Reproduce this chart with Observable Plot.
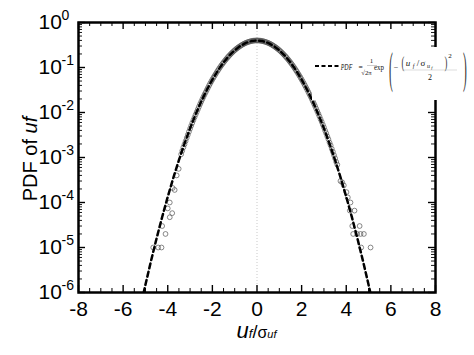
<!DOCTYPE html>
<html>
<head>
<meta charset="utf-8">
<script src="https://cdn.jsdelivr.net/npm/d3@7"></script>
<script src="https://cdn.jsdelivr.net/npm/@observablehq/plot@0.6"></script>
<style>
  html, body { margin: 0; padding: 0; background: #fff; }
  #chart svg { display: block; }
</style>
</head>
<body>
<div id="chart"></div>
<script>
// ---- data ----
const xTicks = [-8, -6, -4, -2, 0, 2, 4, 6, 8];
const xTickLabels = ["-8", "-6", "-4", "-2", "0", "2", "4", "6", "8"];
const yTicks = [1e-6, 1e-5, 1e-4, 1e-3, 1e-2, 1e-1, 1];
const yTickExps = ["-6", "-5", "-4", "-3", "-2", "-1", "0"];

// Gaussian reference curve PDF = exp(-x^2/2)/sqrt(2pi), tabulated
const gaussX = [-5.25, -5, -4.75, -4.5, -4.25, -4, -3.75, -3.5, -3.25, -3, -2.75, -2.5, -2.25, -2, -1.75, -1.5, -1.25, -1, -0.75, -0.5, -0.25,
  0, 0.25, 0.5, 0.75, 1, 1.25, 1.5, 1.75, 2, 2.25, 2.5, 2.75, 3, 3.25, 3.5, 3.75, 4, 4.25, 4.5, 4.75, 5, 5.25];
const gaussY = [4.13e-7, 1.487e-6, 5.03e-6, 1.598e-5, 4.772e-5, 1.3383e-4, 3.526e-4, 8.727e-4, 2.029e-3, 4.432e-3, 9.094e-3, 1.753e-2, 3.174e-2, 5.399e-2, 8.628e-2, 0.12952, 0.18265, 0.24197, 0.30114, 0.35207, 0.38667,
  0.39894, 0.38667, 0.35207, 0.30114, 0.24197, 0.18265, 0.12952, 0.08628, 5.399e-2, 3.174e-2, 1.753e-2, 9.094e-3, 4.432e-3, 2.029e-3, 8.727e-4, 3.526e-4, 1.3383e-4, 4.772e-5, 1.598e-5, 5.03e-6, 1.487e-6, 4.13e-7];

// measured PDF (open circles), core, set A
const coreX = [-3.4, -3.3, -3.2, -3.1, -3.0, -2.9, -2.8, -2.7, -2.6, -2.5, -2.4, -2.3, -2.2, -2.1, -2.0, -1.9, -1.8, -1.7, -1.6, -1.5, -1.4, -1.3, -1.2, -1.1, -1.0, -0.9, -0.8, -0.7, -0.6, -0.5, -0.4, -0.3, -0.2, -0.1,
  0.0, 0.1, 0.2, 0.3, 0.4, 0.5, 0.6, 0.7, 0.8, 0.9, 1.0, 1.1, 1.2, 1.3, 1.4, 1.5, 1.6, 1.7, 1.8, 1.9, 2.0, 2.1, 2.2, 2.3, 2.4, 2.5, 2.6, 2.7, 2.8, 2.9, 3.0, 3.1, 3.2, 3.3, 3.4, 3.5, 3.6];
const coreY = [0.00118, 0.00168, 0.00231, 0.00320, 0.00436, 0.00588, 0.00782, 0.0103, 0.0135, 0.0174, 0.0223, 0.0282, 0.0354, 0.0440, 0.0541, 0.0657, 0.0792, 0.0943, 0.1112, 0.1297, 0.1498, 0.1713, 0.1940, 0.2176, 0.2417, 0.2658, 0.2894, 0.3121, 0.3333, 0.3523, 0.3686, 0.3818, 0.3914, 0.3972,
  0.3990, 0.3968, 0.3908, 0.3811, 0.3680, 0.3519, 0.3331, 0.3122, 0.2897, 0.2662, 0.2421, 0.2180, 0.1943, 0.1716, 0.1500, 0.1298, 0.1112, 0.0943, 0.0792, 0.0659, 0.0542, 0.0442, 0.0357, 0.0286, 0.0227, 0.0178, 0.0139, 0.0107, 0.00818, 0.00620, 0.00466, 0.00346, 0.00255, 0.00186, 0.00134, 0.00096, 0.00069];

// measured PDF (open circles), core, set B
const core2X = [-3.35, -3.25, -3.15, -3.05, -2.95, -2.85, -2.75, -2.65, -2.55, -2.45, -2.35, -2.25, -2.15, -2.05, -1.95, -1.85, -1.75, -1.65, -1.55, -1.45, -1.35, -1.25, -1.15, -1.05, -0.95, -0.85, -0.75, -0.65, -0.55, -0.45, -0.35, -0.25, -0.15, -0.05,
  0.05, 0.15, 0.25, 0.35, 0.45, 0.55, 0.65, 0.75, 0.85, 0.95, 1.05, 1.15, 1.25, 1.35, 1.45, 1.55, 1.65, 1.75, 1.85, 1.95, 2.05, 2.15, 2.25, 2.35, 2.45, 2.55, 2.65, 2.75, 2.85, 2.95, 3.05, 3.15, 3.25, 3.35, 3.45, 3.55];
const core2Y = [0.00141, 0.00196, 0.00272, 0.00374, 0.00508, 0.00679, 0.00902, 0.01183, 0.01538, 0.01979, 0.02516, 0.03168, 0.03950, 0.04875, 0.05955, 0.07202, 0.08622, 0.1022, 0.1199, 0.1393, 0.1603, 0.1826, 0.2059, 0.2298, 0.2540, 0.2779, 0.3011, 0.3229, 0.3429, 0.3605, 0.3752, 0.3866, 0.3944, 0.3983,
  0.3983, 0.3943, 0.3865, 0.3750, 0.3603, 0.3428, 0.3229, 0.3012, 0.2781, 0.2542, 0.2301, 0.2061, 0.1828, 0.1605, 0.1395, 0.1201, 0.1024, 0.0865, 0.0723, 0.0598, 0.0490, 0.0398, 0.0320, 0.0255, 0.0201, 0.0157, 0.0122, 0.00935, 0.00710, 0.00535, 0.00398, 0.00294, 0.00215, 0.00156, 0.00113, 0.00080];

// measured PDF (open circles), tails
const tailX = [-4.65, -4.43, -4.28, -4.10, -4.25, -3.91, -3.80, -4.00, -3.91, -3.69, -3.60, -3.51, -3.78,
  5.09, 4.67, 4.31, 4.49, 4.64, 4.79, 4.27, 4.60, 4.37, 4.16, 4.19, 4.07, 4.01, 3.89, 3.74, 3.82];
const tailY = [1e-5, 1e-5, 1e-5, 2e-5, 3e-5, 4.7e-5, 5.8e-5, 7.4e-5, 1e-4, 1.9e-4, 4e-4, 5.6e-4, 2.1e-4,
  1e-5, 1e-5, 2e-5, 2e-5, 2e-5, 2e-5, 3e-5, 3e-5, 6.6e-5, 6.6e-5, 1e-4, 1.3e-4, 1.7e-4, 2.4e-4, 3e-4, 2.8e-4];

// ---- build tables ----
const gauss = gaussX.map((x, i) => ({x, y: gaussY[i]}));
const pts = coreX.map((x, i) => ({x, y: coreY[i]}))
  .concat(core2X.map((x, i) => ({x, y: core2Y[i]})))
  .concat(tailX.map((x, i) => ({x, y: tailY[i]})));
const xMinor = d3.range(-7.5, 8, 0.5).filter(v => !xTicks.includes(v));
const yMinor = [];
for (let k = -6; k < 0; k++) for (let m = 2; m <= 9; m++) yMinor.push(m * Math.pow(10, k));

const W = 474, H = 355;
const mL = 78, mR = 39, mT = 22, mB = 63;
const fW = W - mL - mR, fH = H - mT - mB;
const majLen = 7, minLen = 4;

const chart = Plot.plot({
  width: W, height: H,
  marginLeft: mL, marginRight: mR, marginTop: mT, marginBottom: mB,
  style: {background: "#fff", fontFamily: "Liberation Sans, Arial, sans-serif"},
  x: {domain: [-8, 8], axis: null},
  y: {type: "log", domain: [1e-6, 1], axis: null},
  marks: [
    Plot.ruleX([0], {stroke: "#bbb", strokeWidth: 0.8, strokeDasharray: "1,2"}),
    Plot.dot(pts, {x: "x", y: "y", r: 2.4, stroke: "#555", strokeWidth: 0.7, fill: "none", clip: true}),
    Plot.line(gauss, {x: "x", y: "y", stroke: "#000", strokeWidth: 2.5, strokeDasharray: "5,3.5", clip: true}),
    // inward ticks, bottom / top
    Plot.ruleX(xTicks, {insetTop: fH - majLen, stroke: "#000", strokeWidth: 1.4}),
    Plot.ruleX(xTicks, {insetBottom: fH - majLen, stroke: "#000", strokeWidth: 1.4}),
    Plot.ruleX(xMinor, {insetTop: fH - minLen, stroke: "#000", strokeWidth: 1}),
    Plot.ruleX(xMinor, {insetBottom: fH - minLen, stroke: "#000", strokeWidth: 1}),
    // inward ticks, left / right
    Plot.ruleY(yTicks, {insetRight: fW - majLen, stroke: "#000", strokeWidth: 1.4}),
    Plot.ruleY(yTicks, {insetLeft: fW - majLen, stroke: "#000", strokeWidth: 1.4}),
    Plot.ruleY(yMinor, {insetRight: fW - minLen, stroke: "#000", strokeWidth: 0.9}),
    Plot.ruleY(yMinor, {insetLeft: fW - minLen, stroke: "#000", strokeWidth: 0.9}),
    Plot.frame({stroke: "#000", strokeWidth: 2.5}),
    // x tick labels
    Plot.text(xTicks, {x: d => d, text: (d, i) => xTickLabels[i], frameAnchor: "bottom", dy: 17, fontSize: 21, lineAnchor: "middle", fill: "#000"}),
    // y tick labels: "10" + superscript exponent
    Plot.text(yTicks, {y: d => d, text: () => "10", frameAnchor: "left", dx: -40, textAnchor: "start", fontSize: 21, lineAnchor: "middle", fill: "#000"}),
    Plot.text(yTicks, {y: d => d, text: (d, i) => yTickExps[i], frameAnchor: "left", dx: -17, dy: -7, textAnchor: "start", fontSize: 14, lineAnchor: "middle", fill: "#000"})
  ]
});

const svg = d3.select(chart);
const xs = chart.scale("x");

// Y title
const yt = svg.append("text")
  .attr("transform", `translate(37,${(mT + H - mB) / 2 + 2}) rotate(-90)`)
  .attr("text-anchor", "middle")
  .attr("font-family", "Liberation Sans, Arial, sans-serif")
  .attr("font-size", 20).attr("fill", "#000");
yt.append("tspan").text("PDF of ");
yt.append("tspan").attr("font-style", "italic").text("uf");

// X title
const xt = svg.append("text")
  .attr("x", xs.apply(0)).attr("y", 338)
  .attr("text-anchor", "middle")
  .attr("font-family", "Liberation Sans, Arial, sans-serif")
  .attr("fill", "#000");
xt.append("tspan").attr("font-style", "italic").attr("font-size", 22).text("u");
xt.append("tspan").attr("font-style", "italic").attr("font-size", 13).text("f");
xt.append("tspan").attr("font-size", 18).text("/");
xt.append("tspan").attr("font-size", 16).text("σ");
xt.append("tspan").attr("font-style", "italic").attr("font-size", 11).text("uf");

// Legend
const lg = svg.append("g").attr("font-family", "Liberation Serif, Times New Roman, serif").attr("fill", "#111");
lg.append("rect").attr("x", 312).attr("y", 47).attr("width", W - 312).attr("height", 53).attr("fill", "#fff");
lg.append("line").attr("x1", 315).attr("x2", 339).attr("y1", 66).attr("y2", 66)
  .attr("stroke", "#000").attr("stroke-width", 2).attr("stroke-dasharray", "4,2.5");
const t = (x, y, s, size, opts = {}) => {
  const e = lg.append("text").attr("x", x).attr("y", y).attr("font-size", size).text(s);
  if (opts.italic) e.attr("font-style", "italic");
  if (opts.anchor) e.attr("text-anchor", opts.anchor);
  if (opts.fill) e.attr("fill", opts.fill);
  if (opts.len) e.attr("textLength", opts.len).attr("lengthAdjust", "spacingAndGlyphs");
  if (opts.transform) e.attr("transform", opts.transform).attr("x", 0).attr("y", 0);
  return e;
};
t(346.5, 70, "PDF", 9, {italic: true, len: 11.5});
t(360.5, 70, "=", 7.5);
t(371.5, 62.5, "1", 7, {anchor: "middle"});
lg.append("line").attr("x1", 367).attr("x2", 377).attr("y1", 65.5).attr("y2", 65.5).attr("stroke", "#999").attr("stroke-width", 0.5);
t(366.5, 74.5, "√2π", 7, {len: 10.5});
t(379, 70, "exp", 9, {len: 10});
t(0, 0, "(", 44, {transform: "translate(391,83) scale(0.26,1)", fill: "#333"});
t(396, 70, "−", 8);
t(0, 0, "(", 17, {transform: "translate(403,68) scale(0.5,1)", fill: "#333"});
t(408, 66, "u", 9, {italic: true});
t(413.5, 68, "f", 6, {italic: true});
t(418, 66, "/", 9);
t(423, 66, "σ", 9);
t(428.5, 68, "u", 6, {italic: true});
t(432, 69, "f", 4.5, {italic: true});
t(0, 0, ")", 17, {transform: "translate(446,68) scale(0.5,1)", fill: "#333"});
t(450, 58, "2", 7);
lg.append("line").attr("x1", 402).attr("x2", 457).attr("y1", 70).attr("y2", 70).attr("stroke", "#aaa").attr("stroke-width", 0.4);
t(430, 80, "2", 8, {anchor: "middle"});
t(0, 0, ")", 44, {transform: "translate(465,83) scale(0.26,1)", fill: "#333"});

document.getElementById("chart").appendChild(chart);
</script>
</body>
</html>
